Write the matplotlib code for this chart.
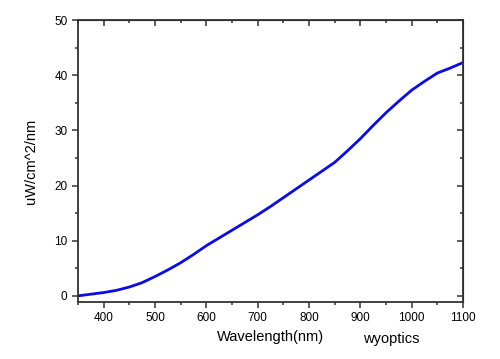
import numpy as np
import matplotlib.pyplot as plt
from matplotlib.ticker import MultipleLocator

plt.rcParams['font.family'] = ['Liberation Sans', 'DejaVu Sans']

# ── data ──
wavelength = [350, 375, 400, 425, 450, 475, 500, 525, 550, 575, 600, 625, 650, 675,
              700, 725, 750, 775, 800, 825, 850, 875, 900, 925, 950, 975, 1000,
              1025, 1050, 1075, 1100]
power = [0.0, 0.3, 0.6, 1.0, 1.6, 2.4, 3.5, 4.7, 6.0, 7.5, 9.1, 10.5, 11.9, 13.3,
         14.7, 16.2, 17.8, 19.4, 21.0, 22.6, 24.2, 26.3, 28.5, 30.9, 33.2, 35.3, 37.3,
         38.9, 40.4, 41.3, 42.3]

fig = plt.figure(figsize=(5.0, 3.59), dpi=100)
ax = fig.add_axes([0.156, 0.159, 0.77, 0.785])

ax.plot(wavelength, power, color='#0a0aee', lw=2)

ax.set_xlim(350, 1100)
ax.set_ylim(-1.1, 50)
ax.xaxis.set_major_locator(MultipleLocator(100))
ax.xaxis.set_minor_locator(MultipleLocator(50))
ax.yaxis.set_major_locator(MultipleLocator(10))
ax.yaxis.set_minor_locator(MultipleLocator(5))
ax.set_xticks([400, 500, 600, 700, 800, 900, 1000, 1100])

for s in ax.spines.values():
    s.set_color('#333333')
    s.set_linewidth(1.3)

ax.tick_params(which='both', direction='out', colors='#333333', labelcolor='black',
               labelsize=8.5, width=1.1)
ax.tick_params(which='major', length=4)
ax.tick_params(which='minor', length=2.5)

# inward ticks on top and right
top = ax.secondary_xaxis('top')
top.set_xticks([400, 500, 600, 700, 800, 900, 1000, 1100])
top.xaxis.set_minor_locator(MultipleLocator(50))
top.tick_params(which='both', direction='in', labeltop=False, colors='#333333', width=1.1)
top.tick_params(which='major', length=4)
top.tick_params(which='minor', length=2.5)
right = ax.secondary_yaxis('right')
right.yaxis.set_major_locator(MultipleLocator(10))
right.yaxis.set_minor_locator(MultipleLocator(5))
right.tick_params(which='both', direction='in', labelright=False, colors='#333333', width=1.1)
right.tick_params(which='major', length=4)
right.tick_params(which='minor', length=2.5)

ax.set_xlabel('Wavelength(nm)', fontsize=10.5, labelpad=4)
ax.set_ylabel('uW/cm^2/nm', fontsize=10.5, labelpad=12)
fig.text(0.782, 0.045, 'wyoptics', fontsize=10.5, ha='center')

plt.savefig('out.png', dpi=100)
